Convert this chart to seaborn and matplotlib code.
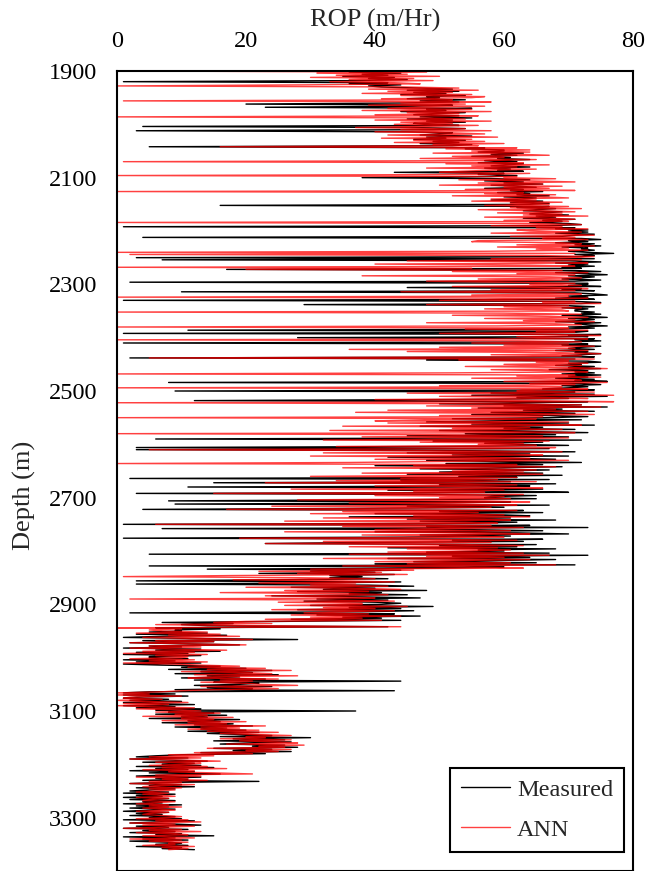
import numpy as np
import pandas as pd
import matplotlib
matplotlib.use("Agg")
import matplotlib.pyplot as plt
import seaborn as sns

# ---------------- data (ROP in m/Hr, sampled every 2 m from 1900 m) ----------------
start_depth = 1900
depth_step = 2

measured_rop = [
    40, 36, 44, 38, 42, 35, 43, 39, 45, 37, 1, 42, 36, 44, 39, 41, 47, 52, 45, 53, 46, 51, 44, 54, 48,
    50, 45, 54, 47, 53, 44, 20, 52, 46, 23, 55, 48, 51, 44, 54, 49, 46, 53, 47, 55, 45, 52, 48, 54, 46,
    48, 53, 4, 46, 54, 49, 3, 45, 52, 50, 47, 55, 48, 51, 46, 54, 49, 53, 47, 55, 52, 5, 57, 54, 60,
    60, 56, 63, 58, 62, 55, 61, 59, 64, 57, 62, 56, 63, 60, 58, 64, 57, 61, 59, 63, 43, 60, 56, 62, 58,
    38, 59, 64, 57, 63, 60, 66, 58, 62, 65, 57, 63, 61, 66, 59, 64, 62, 67, 60, 65, 63, 58, 66, 61, 67,
    64, 16, 67, 62, 68, 65, 63, 69, 66, 64, 70, 65, 68, 63, 71, 66, 69, 64, 70, 72, 67, 1, 71, 68, 73,
    70, 73, 68, 74, 71, 69, 4, 72, 75, 70, 73, 68, 74, 71, 75, 69, 73, 72, 74, 70, 73, 77, 71, 74, 72,
    3, 74, 7, 71, 75, 68, 73, 70, 74, 69, 72, 17, 71, 75, 68, 73, 76, 70, 74, 72, 69, 75, 71, 2, 73,
    73, 70, 75, 45, 72, 69, 74, 10, 71, 74, 76, 70, 73, 68, 74, 1, 71, 75, 72, 29, 70, 74, 69, 73, 71,
    71, 74, 72, 75, 69, 73, 76, 70, 74, 72, 68, 75, 71, 73, 76, 70, 74, 69, 11, 73, 71, 1, 75, 70, 73,
    28, 74, 71, 75, 70, 1, 73, 69, 75, 72, 70, 74, 68, 73, 71, 75, 72, 69, 74, 2, 71, 48, 73, 75, 70,
    72, 68, 74, 70, 75, 67, 73, 71, 74, 69, 75, 70, 73, 68, 74, 71, 76, 8, 72, 75, 69, 73, 70, 66, 74,
    9, 71, 58, 74, 55, 76, 62, 70, 52, 12, 73, 64, 50, 72, 60, 76, 56, 69, 63, 74, 58, 71, 55, 67, 73,
    67, 52, 72, 58, 48, 70, 55, 74, 47, 66, 60, 71, 50, 64, 73, 54, 68, 45, 70, 59, 6, 72, 49, 66, 57,
    62, 70, 50, 3, 67, 3, 55, 71, 45, 64, 52, 70, 42, 61, 68, 48, 58, 72, 51, 66, 40, 69, 60, 47, 67,
    60, 50, 66, 45, 69, 53, 62, 2, 67, 44, 61, 15, 68, 50, 64, 11, 57, 66, 42, 62, 70, 3, 48, 65, 58,
    57, 65, 42, 8, 61, 48, 9, 67, 45, 60, 38, 4, 63, 50, 66, 40, 59, 64, 36, 61, 45, 68, 47, 62, 55,
    1, 64, 48, 73, 7, 55, 66, 40, 62, 70, 47, 61, 44, 1, 66, 52, 63, 38, 23, 65, 50, 62, 42, 68, 56,
    60, 48, 67, 5, 73, 52, 64, 42, 68, 58, 46, 65, 40, 71, 5, 60, 50, 14, 44, 30, 40, 22, 43, 33, 38,
    33, 42, 25, 3, 44, 30, 3, 39, 46, 27, 40, 32, 48, 28, 41, 36, 45, 24, 38, 47, 31, 42, 29, 40, 44,
    41, 30, 49, 36, 44, 28, 46, 38, 2, 43, 31, 47, 35, 41, 27, 44, 25, 7, 18, 10, 14, 42, 6, 16, 9,
    10, 5, 14, 3, 17, 7, 1, 12, 28, 4, 15, 2, 11, 19, 5, 10, 1, 13, 6, 16, 3, 11, 1, 13, 5,
    5, 11, 1, 9, 3, 13, 1, 7, 16, 10, 20, 8, 24, 13, 21, 9, 25, 14, 19, 10, 23, 12, 44, 15, 22,
    19, 12, 24, 14, 21, 9, 43, 5, 1, 9, 1, 11, 3, 1, 8, 2, 10, 1, 6, 12, 1, 9, 3, 13, 6,
    37, 8, 15, 6, 17, 10, 14, 5, 19, 11, 16, 7, 18, 12, 21, 9, 17, 13, 20, 11, 22, 14, 19, 24, 16,
    30, 18, 26, 15, 27, 20, 16, 26, 21, 28, 15, 24, 18, 27, 13, 23, 10, 6, 3, 11, 2, 8, 14, 4, 12,
    7, 13, 3, 15, 6, 11, 2, 12, 5, 16, 8, 3, 13, 6, 11, 4, 22, 7, 2, 10, 5, 12, 3, 9, 5,
    2, 8, 1, 9, 3, 7, 1, 8, 2, 9, 4, 7, 1, 10, 3, 8, 2, 9, 5, 1, 8, 3, 7, 2, 9,
    5, 10, 1, 12, 6, 2, 9, 13, 3, 8, 1, 11, 4, 9, 2, 10, 6, 15, 1, 9, 4, 11, 2, 8, 10,
    6, 11, 3, 10, 7, 12,
]

ann_rop = [
    0, 48, 31, 45, 34, 50, 30, 46, 36, 49, 33, 43, 47, 29, 0, 45, 53, 39, 56, 42, 52, 38, 55, 44, 57,
    55, 41, 52, 1, 58, 44, 54, 39, 57, 47, 42, 55, 38, 58, 45, 53, 40, 56, 0, 48, 54, 40, 58, 44, 52,
    43, 56, 47, 37, 54, 44, 58, 40, 52, 57, 42, 50, 59, 41, 55, 46, 57, 43, 60, 49, 56, 16, 62, 51, 64,
    55, 64, 49, 62, 67, 52, 60, 47, 65, 57, 1, 63, 51, 67, 55, 62, 48, 65, 58, 53, 50, 64, 56, 0, 62,
    60, 68, 53, 64, 71, 56, 66, 50, 69, 60, 67, 54, 71, 0, 63, 57, 68, 52, 66, 70, 58, 65, 55, 69, 61,
    67, 57, 70, 61, 72, 56, 66, 71, 59, 69, 63, 73, 57, 67, 71, 60, 70, 0, 64, 72, 58, 69, 65, 73, 62,
    64, 72, 58, 70, 74, 61, 71, 66, 73, 56, 55, 69, 72, 62, 74, 59, 70, 65, 73, 57, 0, 71, 2, 66, 74,
    70, 58, 72, 45, 66, 73, 40, 64, 71, 0, 55, 20, 69, 52, 73, 62, 71, 38, 67, 72, 56, 70, 48, 60, 71,
    64, 72, 52, 69, 73, 58, 71, 44, 67, 72, 55, 70, 0, 73, 62, 50, 71, 66, 75, 48, 70, 60, 72, 57, 69,
    70, 0, 60, 72, 52, 67, 73, 57, 71, 63, 74, 48, 68, 72, 59, 0, 70, 54, 73, 65, 71, 50, 68, 75, 62,
    66, 73, 0, 63, 72, 55, 70, 60, 74, 50, 71, 36, 73, 45, 68, 75, 58, 72, 62, 5, 74, 53, 70, 65, 73,
    60, 72, 54, 70, 76, 58, 67, 73, 52, 0, 71, 62, 75, 55, 69, 72, 60, 76, 64, 71, 50, 69, 0, 73, 63,
    62, 74, 45, 68, 77, 50, 65, 73, 40, 63, 77, 0, 58, 72, 48, 75, 55, 68, 42, 73, 37, 62, 74, 50, 66,
    0, 65, 48, 40, 70, 42, 61, 72, 35, 64, 52, 69, 33, 58, 71, 0, 50, 66, 38, 70, 56, 32, 67, 47, 63,
    56, 65, 34, 68, 58, 5, 48, 69, 32, 60, 66, 30, 55, 64, 40, 70, 52, 36, 0, 62, 46, 68, 35, 58, 65,
    52, 63, 38, 66, 55, 30, 62, 44, 59, 34, 65, 23, 54, 62, 40, 58, 66, 27, 60, 46, 57, 15, 63, 40, 60,
    50, 61, 28, 57, 64, 36, 54, 62, 24, 58, 42, 17, 62, 35, 56, 30, 60, 46, 64, 32, 57, 61, 26, 54, 59,
    6, 58, 35, 63, 50, 40, 61, 26, 57, 64, 38, 55, 60, 19, 48, 62, 32, 58, 23, 54, 63, 36, 59, 45, 61,
    55, 42, 63, 36, 67, 48, 60, 32, 64, 52, 40, 61, 45, 68, 35, 57, 63, 30, 46, 22, 41, 28, 45, 18, 1,
    28, 40, 18, 35, 43, 22, 37, 30, 42, 20, 38, 44, 26, 39, 16, 36, 42, 23, 34, 40, 2, 33, 43, 25, 38,
    38, 26, 45, 32, 40, 24, 43, 34, 29, 39, 27, 44, 30, 38, 23, 41, 20, 15, 24, 6, 20, 44, 0, 10, 5,
    7, 14, 3, 16, 8, 19, 4, 12, 21, 6, 15, 2, 11, 20, 5, 13, 2, 9, 17, 4, 12, 1, 14, 6, 11,
    10, 2, 12, 5, 14, 1, 9, 13, 19, 11, 23, 14, 27, 10, 20, 24, 12, 28, 15, 11, 25, 16, 21, 13, 20,
    22, 28, 13, 20, 25, 15, 10, 7, 0, 5, 0, 10, 2, 1, 7, 0, 4, 11, 1, 8, 0, 5, 12, 3, 10,
    13, 6, 16, 9, 14, 4, 18, 10, 15, 7, 20, 11, 17, 9, 23, 13, 19, 11, 22, 14, 25, 16, 21, 27, 20,
    23, 16, 27, 19, 25, 28, 17, 29, 22, 26, 14, 27, 20, 25, 12, 21, 8, 15, 5, 13, 2, 10, 16, 6, 13,
    11, 5, 14, 7, 17, 4, 12, 8, 15, 21, 6, 13, 3, 11, 7, 14, 5, 10, 2, 12, 6, 4, 10, 5, 9,
    6, 3, 8, 4, 7, 9, 3, 8, 5, 4, 9, 6, 3, 8, 5, 10, 4, 7, 9, 3, 8, 5, 4, 7, 10,
    8, 3, 11, 6, 13, 2, 9, 4, 12, 7, 1, 10, 5, 13, 3, 9, 11, 4, 8, 12, 2, 10, 5, 11, 8,
    9, 4, 12, 7, 11, 8,
]

x_ticks = [0, 20, 40, 60, 80]
y_ticks = [1900, 2100, 2300, 2500, 2700, 2900, 3100, 3300]
series_names = ["Measured", "ANN"]

# ---------------- tables ----------------
measured_df = pd.DataFrame({
    "Depth": start_depth + depth_step * np.arange(len(measured_rop)),
    "ROP": measured_rop,
})
ann_df = pd.DataFrame({
    "Depth": start_depth + depth_step * np.arange(len(ann_rop)),
    "ROP": ann_rop,
})

# ---------------- style ----------------
sns.set_theme(style="white")
plt.rcParams["font.family"] = ["Liberation Serif", "DejaVu Serif"]
plt.rcParams["axes.edgecolor"] = "black"

fig = plt.figure(figsize=(6.47, 8.71), dpi=100)
ax = fig.add_axes([117 / 647, 0.0, 516 / 647, 800 / 871])

sns.lineplot(data=measured_df, x="ROP", y="Depth", orient="y", sort=False,
             estimator=None, color="black", lw=1.0, label=series_names[0], ax=ax)
sns.lineplot(data=ann_df, x="ROP", y="Depth", orient="y", sort=False,
             estimator=None, color="#FF0000", alpha=0.75, lw=1.0,
             label=series_names[1], ax=ax)

ax.set_xlim(0, 80)
ax.set_ylim(3400, 1900)
ax.set_xticks(x_ticks)
ax.set_yticks(y_ticks)
ax.xaxis.tick_top()
ax.xaxis.set_label_position("top")
ax.set_xlabel("ROP (m/Hr)", fontsize=19, labelpad=3)
ax.set_ylabel("Depth (m)", fontsize=19)
ax.yaxis.set_label_coords(-0.157, 0.469)
ax.tick_params(axis="both", length=0, labelsize=17.5, colors="black")
ax.tick_params(axis="x", pad=14)
ax.tick_params(axis="y", pad=14)
for s in ax.spines.values():
    s.set_visible(True)
    s.set_color("black")
    s.set_linewidth(1.5)

leg = ax.legend(loc="lower right", bbox_to_anchor=(0.983, 0.024),
                borderaxespad=0, frameon=True, fancybox=False,
                edgecolor="black", fontsize=17.5, handlelength=2.0,
                borderpad=0.45, labelspacing=0.75, handletextpad=0.3)
leg.get_frame().set_linewidth(1.5)
leg.get_frame().set_alpha(1)

fig.savefig("out.png", dpi=100)
